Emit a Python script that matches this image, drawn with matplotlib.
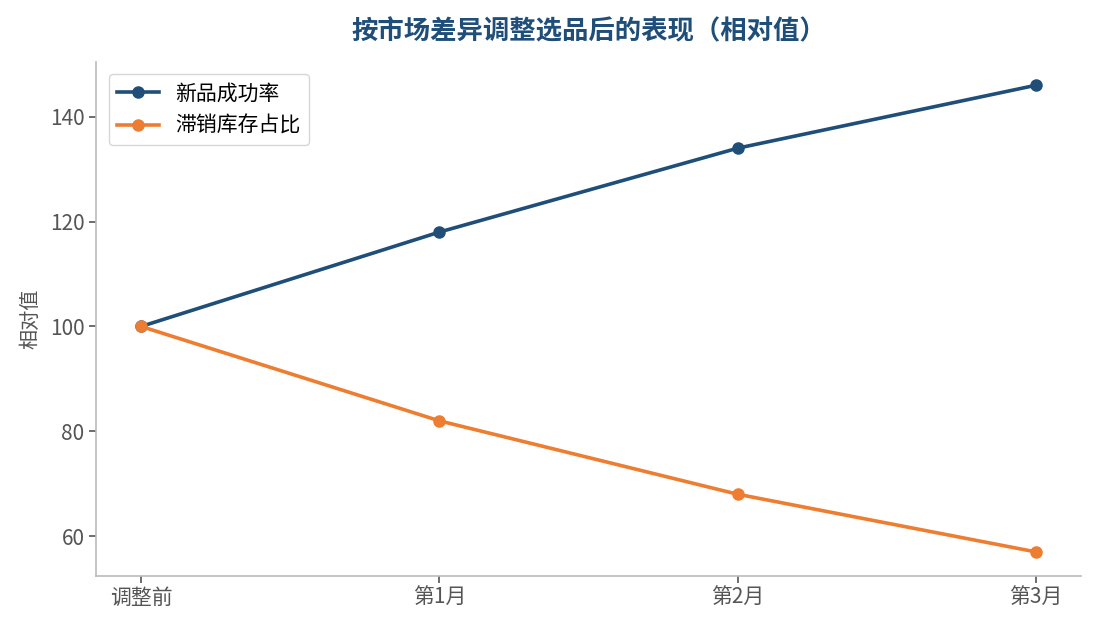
import matplotlib.pyplot as plt
import numpy as np

plt.rcParams['font.family'] = ['Noto Sans CJK SC', 'DejaVu Sans']

# 数据
periodos = ['调整前', '第1月', '第2月', '第3月']
sucesso = [100, 118, 134, 146]
estoque = [100, 82, 68, 57]

cor_azul = '#1f4e79'
cor_laranja = '#ed7d31'

fig, ax = plt.subplots(figsize=(10.95, 6.29), dpi=100)
x = np.arange(len(periodos))
ax.plot(x, sucesso, color=cor_azul, linewidth=2.6, marker='o', markersize=8, label='新品成功率')
ax.plot(x, estoque, color=cor_laranja, linewidth=2.6, marker='o', markersize=8, label='滞销库存占比')

ax.set_xticks(x)
ax.set_xticklabels(periodos)
ax.set_yticks([60, 80, 100, 120, 140])
ax.set_ylim(52.5, 150.5)
ax.set_xlim(-0.15, 3.15)
ax.set_ylabel('相对值', color='#555555', fontsize=14.5, labelpad=6)
ax.set_title('按市场差异调整选品后的表现（相对值）', fontsize=19, fontweight='bold', color=cor_azul, pad=16)

for lado in ['top', 'right']:
    ax.spines[lado].set_visible(False)
for lado in ['left', 'bottom']:
    ax.spines[lado].set_color('#bbbbbb')
    ax.spines[lado].set_linewidth(1.2)
ax.tick_params(colors='#555555', labelsize=15, length=5, width=1.2)

ax.legend(loc='upper left', fontsize=15, frameon=True, edgecolor='#cccccc', borderaxespad=0.6)

plt.subplots_adjust(left=0.088, right=0.987, top=0.902, bottom=0.085)
plt.savefig('out.png', dpi=100)
